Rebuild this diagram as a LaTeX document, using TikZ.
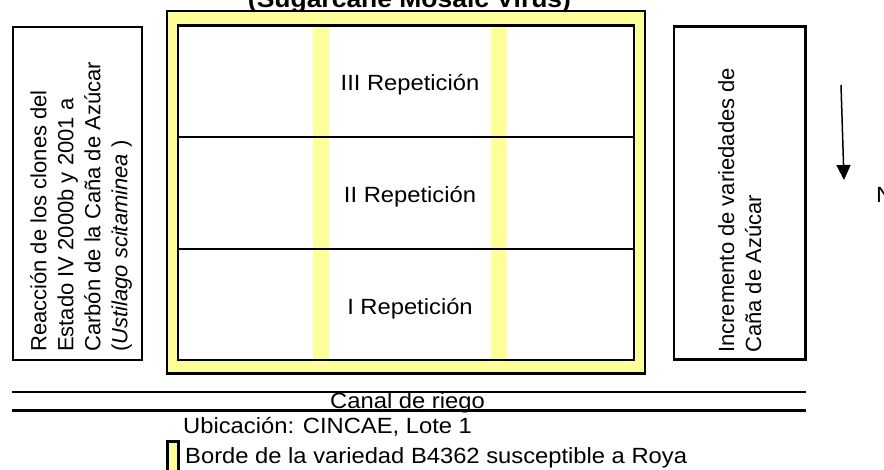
\documentclass[tikz,border=0pt]{standalone}
\usepackage{fontspec}
\setmainfont{Liberation Sans}
\newfontfamily\widefont{Liberation Sans}[FakeStretch=1.08]
\usetikzlibrary{arrows.meta}
\definecolor{paleyellow}{HTML}{FFFF99}
\tikzset{
  frameline/.style={draw=black, line width=2.8pt},
  boxline/.style={draw=black, line width=2.7pt},
  htext/.style={inner sep=0pt, font=\widefont\fontsize{22}{26}\selectfont},
  vtext/.style={inner sep=0pt, rotate=90, anchor=north west, align=left, font=\fontsize{22}{27}\selectfont},
  reptext/.style={htext, anchor=base},
  stripe/.style={fill=paleyellow, draw=none},
  canalline/.style={draw=black, line width=2.2pt},
  northarrow/.style={draw=black, line width=1.5pt, -{Triangle[width=14pt,length=15pt]}}
}
\begin{document}
\begin{tikzpicture}[x=1pt,y=-1pt]
\useasboundingbox (0,0) rectangle (884,470);
% title
\node[htext, font=\widefont\bfseries\fontsize{24.5}{28}\selectfont, anchor=base] (title) at (409.5,8) {(Sugarcane Mosaic Virus)};
% left box
\draw[boxline] (13,27) rectangle (142,360);
\node[vtext] (lefttext) at (30,352) {Reacción de los clones del\\Estado IV 2000b y 2001 a\\Carbón de la Caña de Azúcar\\(\textit{Ustilago scitaminea} )};
% plot frame
\draw[frameline, fill=paleyellow] (167,11) rectangle (645,373.5);
\fill[white] (178,25.5) rectangle (634,360);
\fill[stripe] (313,25.5) rectangle (329,360);
\fill[stripe] (491,25.5) rectangle (507,360);
\draw[frameline] (178,137) -- (634,137);
\draw[frameline] (178,249) -- (634,249);
\draw[frameline] (178,25.5) rectangle (634,360);
\node[reptext] (rep3) at (410,90.5) {III Repetición};
\node[reptext] (rep2) at (410,203) {II Repetición};
\node[reptext] (rep1) at (410,315) {I Repetición};
% right box
\draw[boxline] (674,26.5) rectangle (805.3,359.7);
\node[vtext] (righttext) at (718,353) {Incremento de variedades de\\Caña de Azúcar};
% north arrow
\coordinate (arrowtop) at (841,85);
\coordinate (arrowtip) at (844,180);
\draw[northarrow] (arrowtop) -- (arrowtip);
\node[htext, anchor=base west] (northlabel) at (876,203) {N};
% canal
\node[reptext] (canal) at (407.5,408) {Canal de riego};
\coordinate (canalAw) at (12,391.7);
\coordinate (canalAe) at (806,391.7);
\coordinate (canalBw) at (12,410.3);
\coordinate (canalBe) at (806,410.3);
\draw[canalline, line width=2pt] (canalAw) -- (canalAe);
\draw[canalline, line width=2.7pt] (canalBw) -- (canalBe);
% legend
\node[htext, anchor=base west] (ubic) at (183,433) {Ubicación: CINCAE, Lote 1};
\draw[boxline, fill=paleyellow] (167.5,441.3) rectangle (178.3,480);
\node[htext, anchor=base west] (borde) at (185,463.5) {Borde de la variedad B4362 susceptible a Roya};
\end{tikzpicture}
\end{document}
